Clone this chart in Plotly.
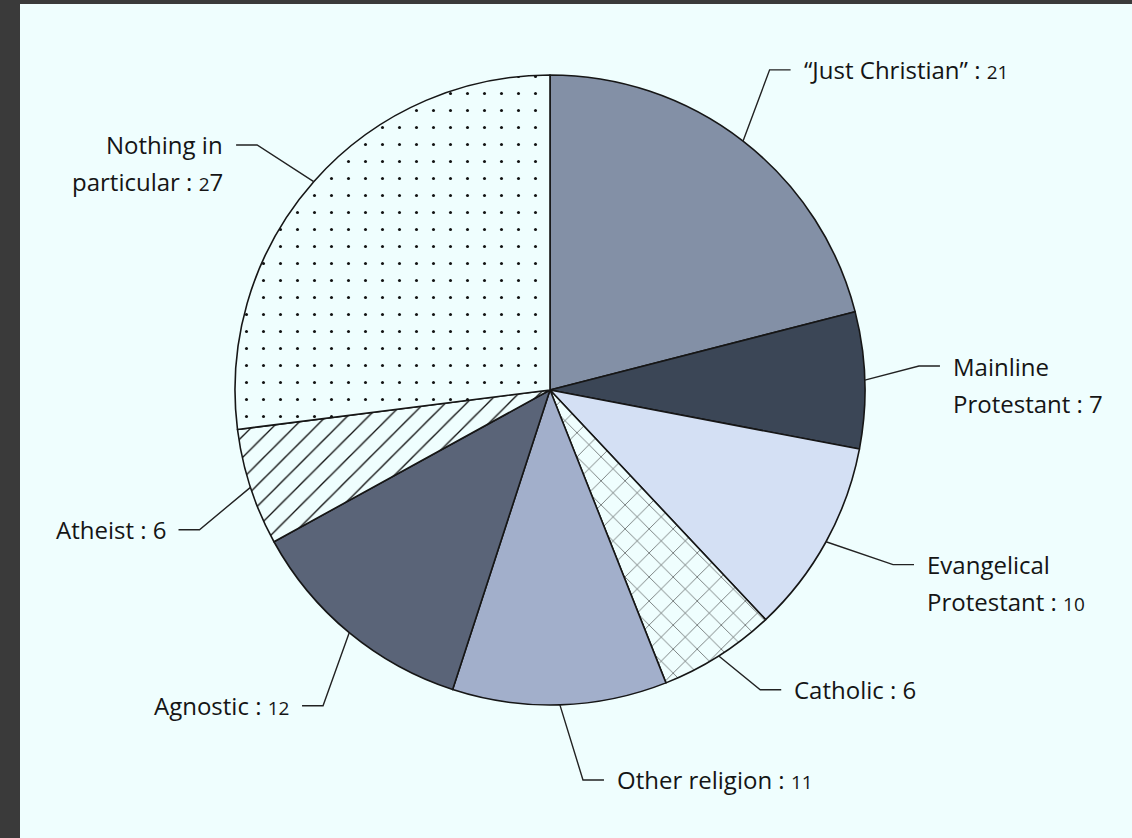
import math
import plotly.graph_objects as go

# ---- data ----
categories = ["\u201cJust Christian\u201d", "Mainline Protestant", "Evangelical Protestant",
              "Catholic", "Other religion", "Agnostic", "Atheist", "Nothing in particular"]
values = [21, 7, 10, 6, 11, 12, 6, 27]
label_lines = [
    ["\u201cJust Christian\u201d : {v}"],
    ["Mainline", "Protestant : {v}"],
    ["Evangelical", "Protestant : {v}"],
    ["Catholic : {v}"],
    ["Other religion : {v}"],
    ["Agnostic : {v}"],
    ["Atheist : {v}"],
    ["Nothing in", "particular : {v}"],
]

# ---- styles / layout ----
W, H = 1132, 838
BG = "#effefe"
fills = ["#8390a6", "#3b4656", "#d4e0f4", BG, "#a2afcb", "#5a6478", BG, BG]
shapes_pat = ["", "", "", "x", "", "", "/", "."]
pat_size = [8, 8, 8, 17, 8, 8, 15, 17]
pat_sol = [0.2, 0.2, 0.2, 0.06, 0.2, 0.2, 0.09, 0.025]
FONT = "Open Sans"
TXT = "#151515"

CX, CY, R = 550, 390, 315          # pie centre / radius in pixels
ELBOW = 1.21                       # elbow radius factor
HSEG = 21                          # horizontal leader length
GAP = 11
LINE_STEP = 37
# small per-label nudges of the leader elbow (pixels), layout only
leader_nudge = [(-14, -19), (-12, -12), (9, -9), (6, -22),
                (21, 9), (16, 22), (12, 22), (-7, 7)]

def px(x):
    return x / W

def py(y):
    return 1 - y / H

def fmt_num(s):
    out = ""
    for ch in s:
        if ch in "012":
            out += '<span style="font-size:19px">' + ch + "</span>"
        else:
            out += ch
    return out

fig = go.Figure(go.Pie(
    labels=categories,
    values=values,
    sort=False,
    direction="clockwise",
    rotation=0,
    textinfo="none",
    hoverinfo="label+value",
    showlegend=False,
    domain=dict(x=[px(CX - R), px(CX + R)], y=[py(CY + R), py(CY - R)]),
    marker=dict(
        colors=fills,
        line=dict(color="#161616", width=1.6),
        pattern=dict(shape=shapes_pat, fgcolor="#111111", bgcolor=fills,
                     fgopacity=1, size=pat_size, solidity=pat_sol,
                     fillmode="overlay"),
    ),
))

shapes = [dict(type="rect", xref="paper", yref="paper",
               x0=px(20), x1=1, y0=0, y1=py(4),
               fillcolor=BG, line=dict(width=0), layer="below")]
annotations = []
total = sum(values)
cum = 0
for i, v in enumerate(values):
    mid = (cum + v / 2) / total * 2 * math.pi
    cum += v
    sx, sy = math.sin(mid), -math.cos(mid)
    ex, ey = CX + R * sx, CY + R * sy
    bx = CX + R * ELBOW * sx + leader_nudge[i][0]
    by = CY + R * ELBOW * sy + leader_nudge[i][1]
    side = 1 if sx >= 0 else -1
    hx = bx + side * HSEG
    shapes.append(dict(
        type="path", xref="paper", yref="paper",
        path=f"M {px(ex)},{py(ey)} L {px(bx)},{py(by)} L {px(hx)},{py(by)}",
        line=dict(color="#222222", width=1.4),
    ))
    tx = hx + side * GAP
    for j, ln in enumerate(label_lines[i]):
        txt = ln.replace("{v}", fmt_num(str(v)))
        annotations.append(dict(
            x=px(tx), y=py(by + j * LINE_STEP), xref="paper", yref="paper",
            text=txt, showarrow=False,
            xanchor="left" if side > 0 else "right", yanchor="middle",
            font=dict(family=FONT, size=24, color=TXT),
        ))

fig.update_layout(
    width=W, height=H,
    margin=dict(l=0, r=0, t=0, b=0),
    paper_bgcolor="#3a3a3a",
    shapes=shapes,
    annotations=annotations,
)

fig.write_html(
    "out.html",
    config={"displayModeBar": False},
    post_script="document.body.style.margin='0';document.body.style.background='#3a3a3a';",
)
